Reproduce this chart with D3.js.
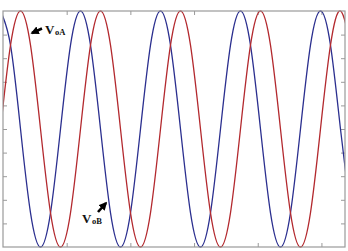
<!DOCTYPE html>
<html>
<head>
<meta charset="utf-8">
<script src="https://cdn.jsdelivr.net/npm/d3@7"></script>
<style>
  body { margin: 0; background: #fff; }
  svg { display: block; }
</style>
</head>
<body>
<div id="chart"></div>
<script>
// sample times (ms), eighth-period steps
var sampleTimes = [-0.039, 0.118, 0.275, 0.432, 0.589, 0.746, 0.903, 1.060, 1.217, 1.374,
    1.531, 1.688, 1.845, 2.002, 2.159, 2.316, 2.473, 2.630, 2.787, 2.944,
    3.101, 3.258, 3.415, 3.572, 3.729, 3.886, 4.043, 4.200, 4.357, 4.514,
    4.671, 4.828, 4.985, 5.142, 5.299, 5.456];

// per-unit output voltages at those times
var voA = [0, 0.71, 1, 0.71, 0, -0.71, -1, -0.71, 0, 0.71, 1, 0.71, 0, -0.71, -1, -0.71,
    0, 0.71, 1, 0.71, 0, -0.71, -1, -0.71, 0, 0.71, 1, 0.71, 0, -0.71, -1, -0.71,
    0, 0.71, 1, 0.71];
var voB = [1, 0.71, 0, -0.71, -1, -0.71, 0, 0.71, 1, 0.71, 0, -0.71, -1, -0.71, 0, 0.71,
    1, 0.71, 0, -0.71, -1, -0.71, 0, 0.71, 1, 0.71, 0, -0.71, -1, -0.71, 0, 0.71,
    1, 0.71, 0, -0.71];

var xTicks = [1, 2, 3, 4, 5];
var yTicks = [-0.8, -0.6, -0.4, -0.2, 0, 0.2, 0.4, 0.6, 0.8];

var width = 348, height = 251;
var margin = {top: 11, right: 3, bottom: 4, left: 3};
var innerW = width - margin.left - margin.right;
var innerH = height - margin.top - margin.bottom;

var svg = d3.select("#chart").append("svg")
    .attr("width", width)
    .attr("height", height);

var x = d3.scaleLinear().domain([0, 5.37]).range([0, innerW]);
var y = d3.scaleLinear().domain([-1, 1]).range([innerH, 0]);

var g = svg.append("g")
    .attr("transform", "translate(" + margin.left + "," + margin.top + ")");

g.append("clipPath").attr("id", "plotClip")
    .append("rect").attr("x", 0).attr("y", -1).attr("width", innerW).attr("height", innerH + 2);

var frameColor = "#9a9a9a";

function styleAxis(sel) {
    sel.select(".domain").remove();
    sel.selectAll(".tick line").attr("stroke", frameColor).attr("stroke-width", 1);
    sel.selectAll(".tick text").remove();
}

g.append("g").call(d3.axisBottom(x).tickValues(xTicks).tickSize(-4))
    .attr("transform", "translate(0," + innerH + ")").call(styleAxis);
g.append("g").call(d3.axisTop(x).tickValues(xTicks).tickSize(-4)).call(styleAxis);
g.append("g").call(d3.axisLeft(y).tickValues(yTicks).tickSize(-4)).call(styleAxis);
g.append("g").call(d3.axisRight(y).tickValues(yTicks).tickSize(-4))
    .attr("transform", "translate(" + innerW + ",0)").call(styleAxis);

var line = d3.line()
    .x(function (d) { return x(d.t); })
    .y(function (d) { return y(d.v); })
    .curve(d3.curveNatural);

var series = [
    {name: "voB", values: voB, color: "#2b2f8f"},
    {name: "voA", values: voA, color: "#b3292e"}
];

var plot = g.append("g").attr("clip-path", "url(#plotClip)");
series.forEach(function (s) {
    var pts = sampleTimes.map(function (t, i) { return {t: t, v: s.values[i]}; });
    plot.append("path")
        .datum(pts)
        .attr("fill", "none")
        .attr("stroke", s.color)
        .attr("stroke-width", 1.3)
        .attr("d", line);
});

g.append("rect")
    .attr("x", 0).attr("y", 0)
    .attr("width", innerW).attr("height", innerH)
    .attr("fill", "none")
    .attr("stroke", frameColor)
    .attr("stroke-width", 1.2);

// annotations
svg.append("defs").append("marker")
    .attr("id", "arrowHead")
    .attr("viewBox", "0 0 10 10")
    .attr("refX", 8).attr("refY", 5)
    .attr("markerWidth", 3.2).attr("markerHeight", 3.2)
    .attr("orient", "auto")
    .append("path").attr("d", "M0,0 L10,5 L0,10 Z").attr("fill", "#000");

var labels = [
    {main: "V", sub: "oA", x: 45, y: 34, ax1: 42, ay1: 28.5, ax2: 32, ay2: 33},
    {main: "V", sub: "oB", x: 82, y: 223, ax1: 98, ay1: 212, ax2: 106, ay2: 203}
];

labels.forEach(function (l) {
    svg.append("line")
        .attr("x1", l.ax1).attr("y1", l.ay1)
        .attr("x2", l.ax2).attr("y2", l.ay2)
        .attr("stroke", "#000").attr("stroke-width", 2.6)
        .attr("marker-end", "url(#arrowHead)");
    var t = svg.append("text")
        .attr("x", l.x).attr("y", l.y)
        .attr("font-family", "'Liberation Serif', 'Times New Roman', serif")
        .attr("font-weight", "bold")
        .attr("fill", "#111");
    t.append("tspan").attr("font-size", 13).text(l.main);
    t.append("tspan").attr("font-size", 8.5).attr("dy", 1).attr("dx", 0.5).text(l.sub);
});
</script>
</body>
</html>
